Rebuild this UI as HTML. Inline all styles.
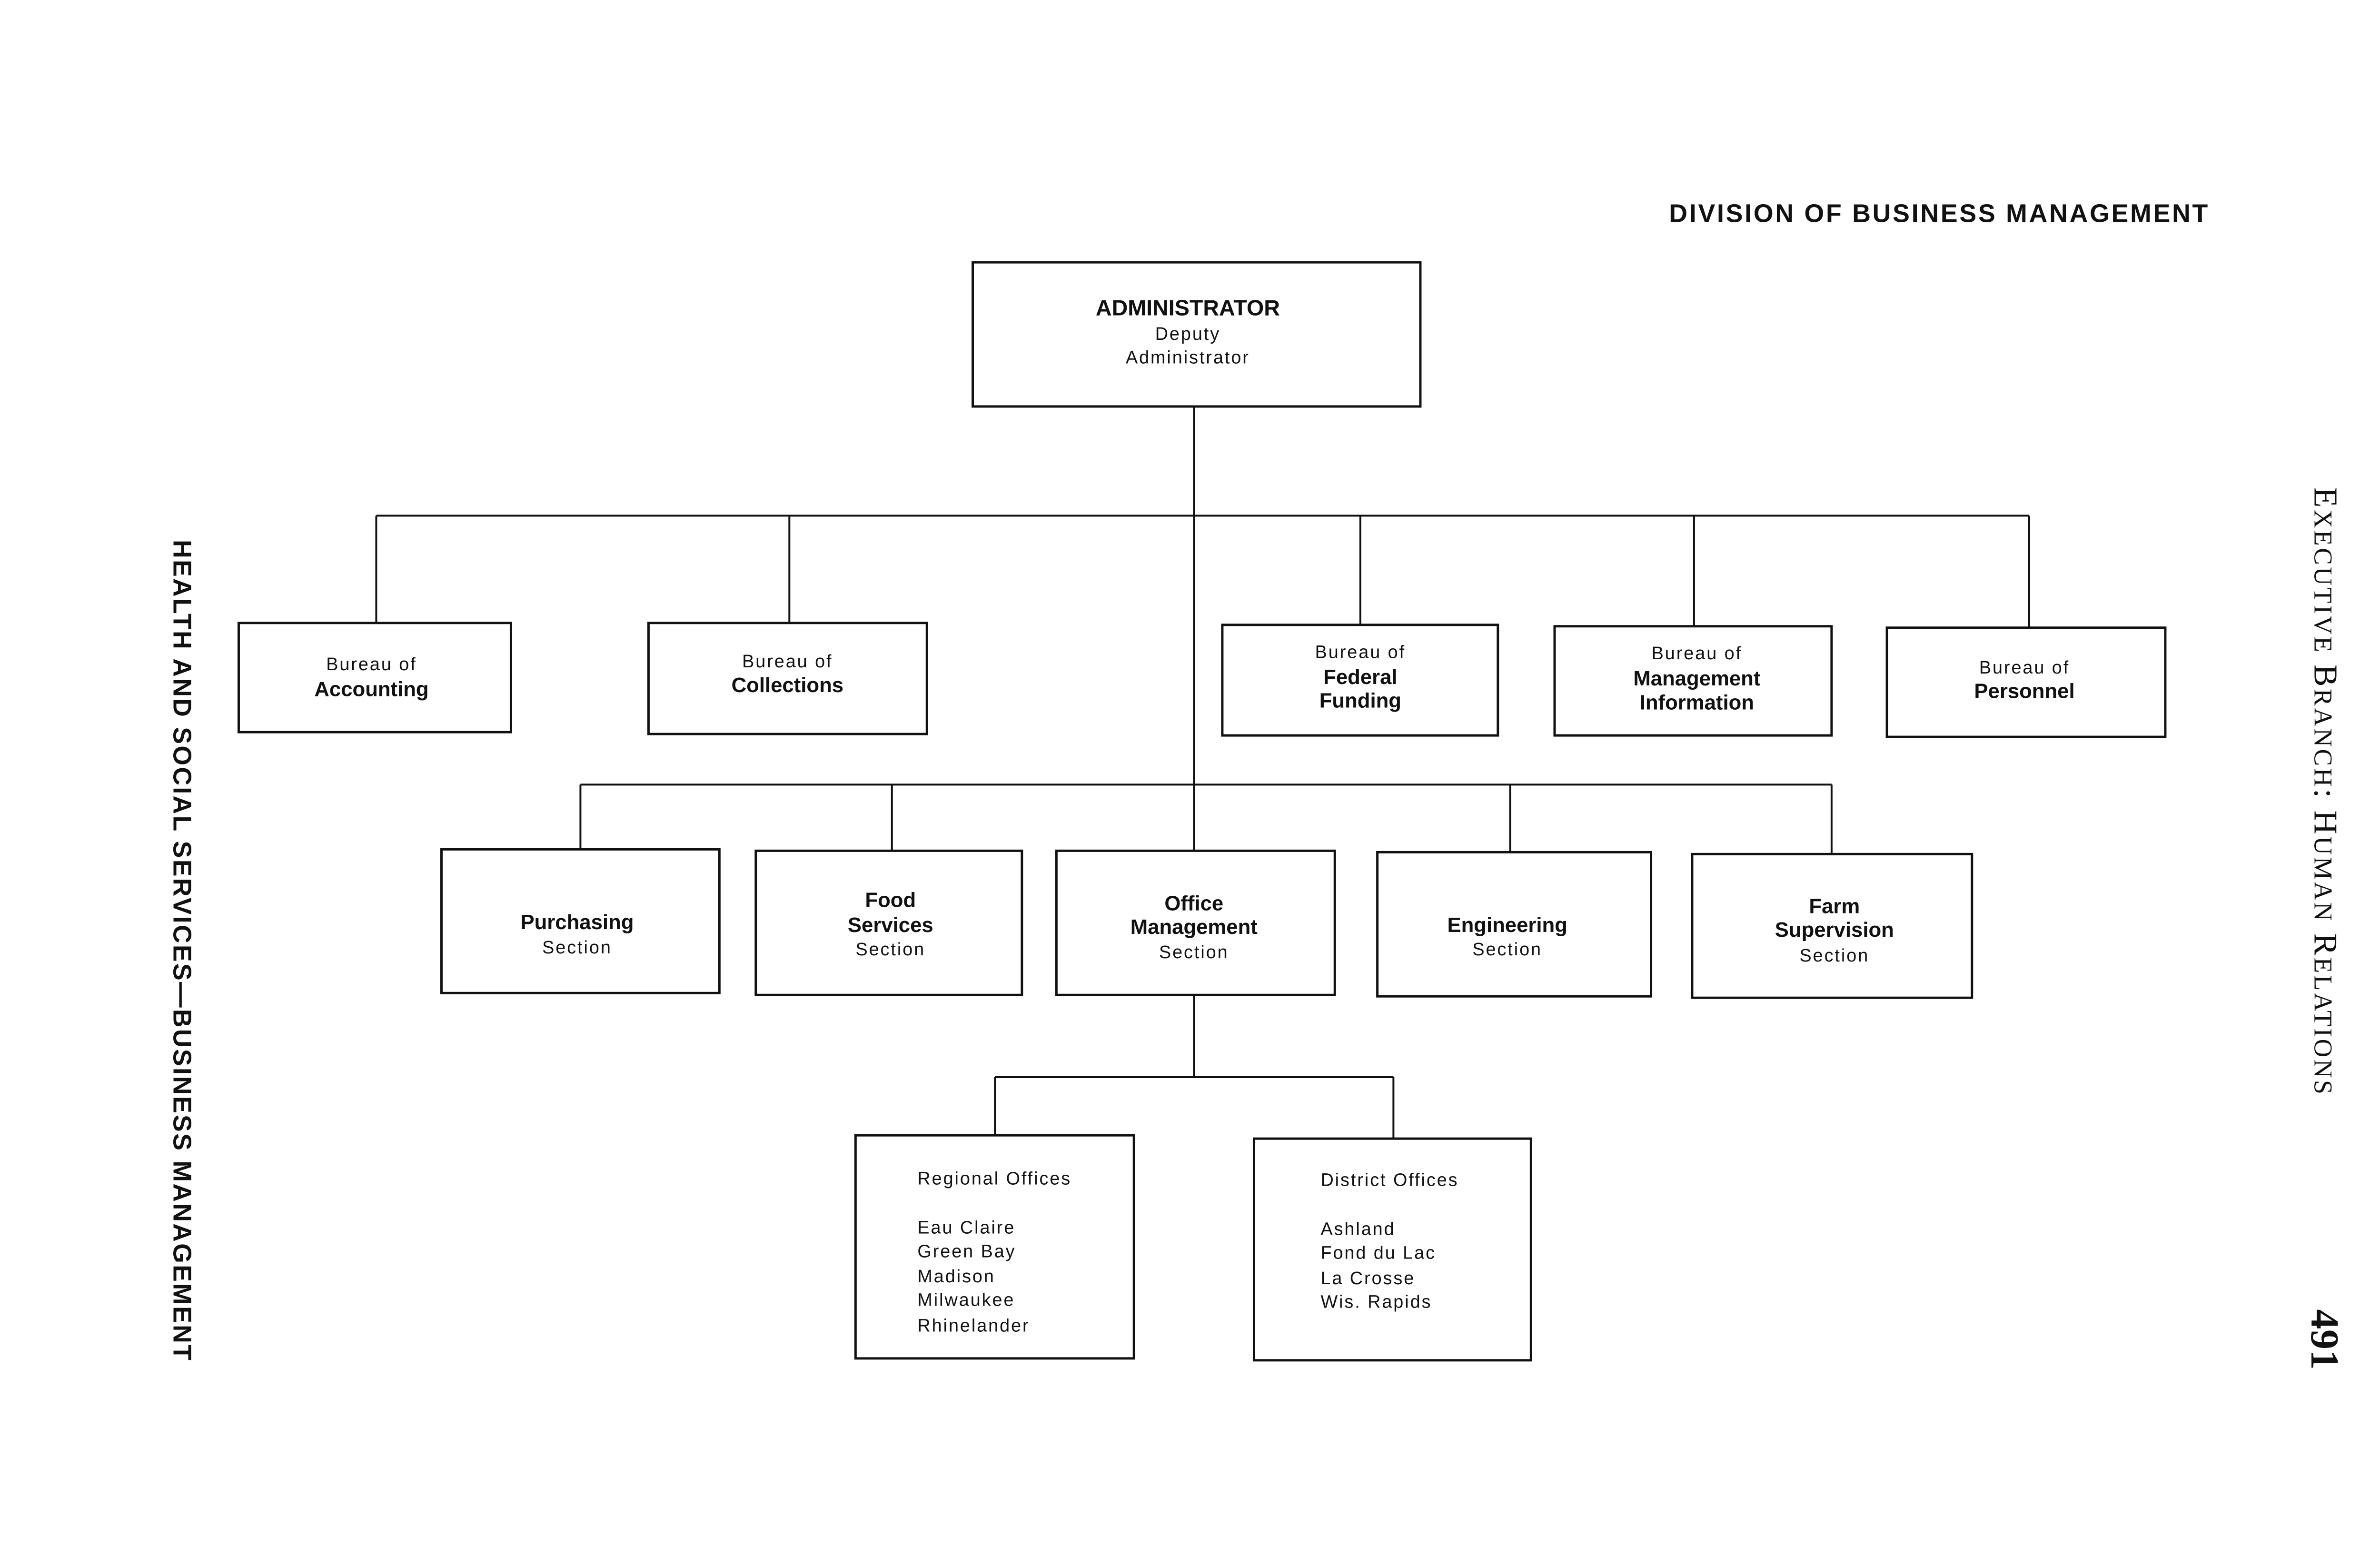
<!DOCTYPE html>
<html><head><meta charset="utf-8"><style>
html,body{margin:0;padding:0;background:#fff}
svg{display:block}
text{font-family:"Liberation Sans",sans-serif;fill:#111}
.b{font-weight:bold;font-size:44px}
.s{font-size:38px;letter-spacing:3px}
.t{font-size:38px;letter-spacing:3px}
</style></head><body>
<svg width="5220" height="3248" viewBox="0 0 5220 3248" xmlns="http://www.w3.org/2000/svg">
<g transform="scale(0.993)">
<g stroke="#111" stroke-width="5" fill="none">
<rect x="2058" y="555" width="947" height="305"/>
<rect x="505" y="1318" width="576" height="231"/>
<rect x="1372" y="1318" width="589" height="235"/>
<rect x="2586" y="1322" width="583" height="234"/>
<rect x="3289" y="1325" width="586" height="231"/>
<rect x="3992" y="1328" width="589" height="231"/>
<rect x="934" y="1797" width="588" height="304"/>
<rect x="1599" y="1800" width="563" height="305"/>
<rect x="2235" y="1800" width="589" height="305"/>
<rect x="2914" y="1803" width="579" height="305"/>
<rect x="3580" y="1807" width="592" height="304"/>
<rect x="1810" y="2402" width="589" height="472"/>
<rect x="2653" y="2409" width="586" height="469"/>
<path d="M2526 860V1800 M796 1091H4293 M796 1091V1318 M1670 1091V1318 M2878 1091V1322 M3584 1091V1325 M4293 1091V1328
M1228 1660H3875 M1228 1660V1797 M1887 1660V1800 M3195 1660V1803 M3875 1660V1807
M2526 2105V2279 M2105 2279H2948 M2105 2279V2402 M2948 2279V2409" stroke-width="4"/>
</g>
<text x="4101" y="470" text-anchor="middle" style="font-weight:bold;font-size:54px" textLength="1140">DIVISION OF BUSINESS MANAGEMENT</text>
<g text-anchor="middle">
<text class="b" x="2513" y="667" style="font-size:47px">ADMINISTRATOR</text>
<text class="s" x="2513" y="719">Deputy</text>
<text class="s" x="2513" y="769">Administrator</text>
<text class="s" x="786" y="1418">Bureau of</text><text class="b" x="786" y="1473">Accounting</text>
<text class="s" x="1666" y="1412">Bureau of</text><text class="b" x="1666" y="1464">Collections</text>
<text class="s" x="2878" y="1392">Bureau of</text><text class="b" x="2878" y="1447">Federal</text><text class="b" x="2878" y="1497">Funding</text>
<text class="s" x="3590" y="1395">Bureau of</text><text class="b" x="3590" y="1450">Management</text><text class="b" x="3590" y="1501">Information</text>
<text class="s" x="4283" y="1425">Bureau of</text><text class="b" x="4283" y="1477">Personnel</text>
<text class="b" x="1221" y="1966">Purchasing</text><text class="s" x="1221" y="2017">Section</text>
<text class="b" x="1884" y="1919">Food</text><text class="b" x="1884" y="1972">Services</text><text class="s" x="1884" y="2021">Section</text>
<text class="b" x="2526" y="1926">Office</text><text class="b" x="2526" y="1976">Management</text><text class="s" x="2526" y="2027">Section</text>
<text class="b" x="3189" y="1972">Engineering</text><text class="s" x="3189" y="2021">Section</text>
<text class="b" x="3881" y="1932">Farm</text><text class="b" x="3881" y="1982">Supervision</text><text class="s" x="3881" y="2034">Section</text>
</g>
<g class="t">
<text class="t" x="1941" y="2506">Regional Offices</text>
<text class="t" x="1941" y="2610">Eau Claire</text>
<text class="t" x="1941" y="2660">Green Bay</text>
<text class="t" x="1941" y="2713">Madison</text>
<text class="t" x="1941" y="2763">Milwaukee</text>
<text class="t" x="1941" y="2817">Rhinelander</text>
<text class="t" x="2794" y="2509">District Offices</text>
<text class="t" x="2794" y="2613">Ashland</text>
<text class="t" x="2794" y="2663">Fond du Lac</text>
<text class="t" x="2794" y="2717">La Crosse</text>
<text class="t" x="2794" y="2767">Wis. Rapids</text>
</g>
<text transform="translate(367,1142) rotate(90)" x="0" y="0" style="font-size:54px;font-weight:bold" textLength="1736">HEALTH AND SOCIAL SERVICES—BUSINESS MANAGEMENT</text>
<text transform="translate(4897,1031) rotate(90)" x="0" y="0" style="font-family:'Liberation Serif',serif;font-size:70px" textLength="1284">E<tspan style="font-size:54px">XECUTIVE</tspan> B<tspan style="font-size:54px">RANCH</tspan>: H<tspan style="font-size:54px">UMAN</tspan> R<tspan style="font-size:54px">ELATIONS</tspan></text>
<text transform="translate(4890,2770) rotate(90)" x="0" y="0" style="font-family:'Liberation Serif',serif;font-weight:bold;font-size:84px" textLength="128">491</text>
</g>
</svg>
</body></html>
